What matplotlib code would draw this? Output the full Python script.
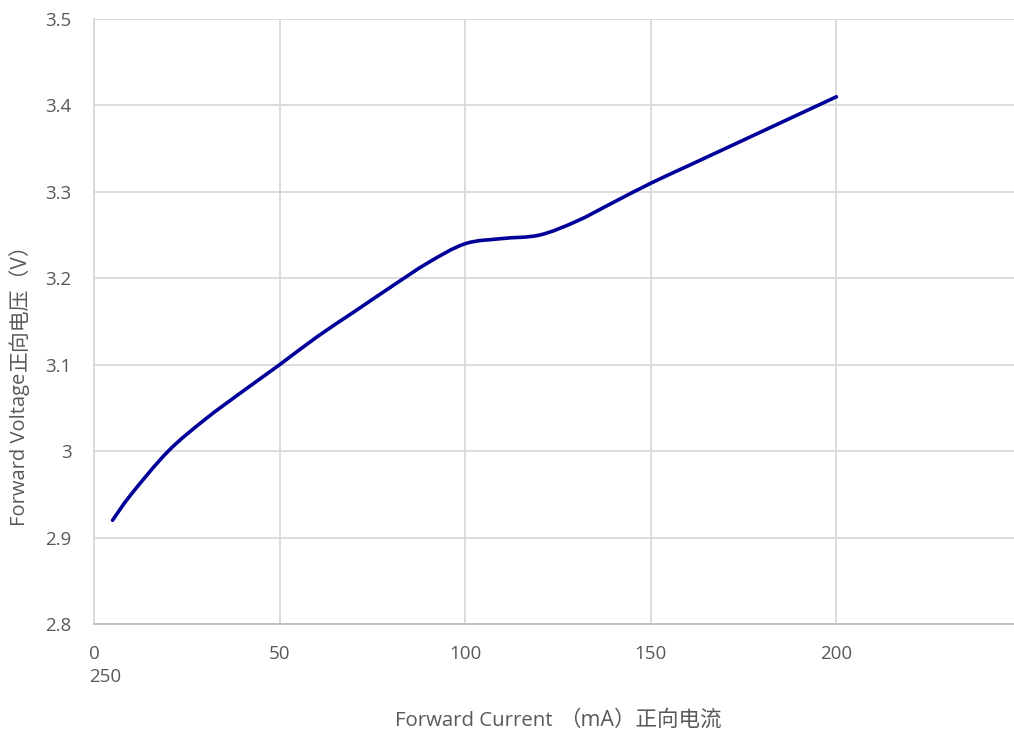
import matplotlib
matplotlib.use("Agg")
import matplotlib.pyplot as plt
from matplotlib.path import Path
from matplotlib.patches import PathPatch
import numpy as np

plt.rcParams['font.family'] = ['Open Sans', 'Noto Sans CJK SC', 'DejaVu Sans']

current_mA = [5, 10, 20, 30, 40, 50, 60, 70, 80, 90, 100, 110, 120, 130, 140, 150,
              160, 170, 180, 190, 200]
voltage_V = [2.92, 2.95, 3.00, 3.037, 3.069, 3.10, 3.132, 3.161, 3.19, 3.218, 3.24,
             3.246, 3.25, 3.266, 3.288, 3.31, 3.33, 3.35, 3.37, 3.39, 3.41]
x_ticks = [0, 50, 100, 150, 200, 250]
y_ticks = [2.8, 2.9, 3.0, 3.1, 3.2, 3.3, 3.4, 3.5]
y_tick_labels = ['2.8', '2.9', '3', '3.1', '3.2', '3.3', '3.4', '3.5']
x_label_parts = ['Forward Current', '（mA）正向电流']
y_label_parts = ['Forward Voltage', '正向电压（V）']

W, H = 1014, 730
fig = plt.figure(figsize=(W / 100, H / 100), dpi=100)
fig.patch.set_facecolor('white')
ax = fig.add_axes([94 / W, (H - 624) / H, (1022 - 94) / W, (624 - 19) / H])
ax.set_xlim(0, 250)
ax.set_ylim(2.8, 3.5)

grid_c = '#d9d9d9'
text_c = '#595959'
ax.set_xticks(x_ticks)
ax.set_xticklabels([str(v) for v in x_ticks[:-1]] + [''])
ax.set_yticks(y_ticks)
ax.set_yticklabels(y_tick_labels)
ax.tick_params(length=0, labelsize=13.5, labelcolor=text_c)
ax.tick_params(axis='x', pad=15)
ax.tick_params(axis='y', pad=16)
ax.grid(True, color=grid_c, linewidth=1.3)
ax.set_axisbelow(True)
for s in ['top', 'right']:
    ax.spines[s].set_visible(False)
ax.spines['left'].set_color(grid_c)
ax.spines['left'].set_linewidth(1.3)
ax.spines['bottom'].set_color('#bfbfbf')
ax.spines['bottom'].set_linewidth(1.3)

# Smoothed line (Bezier through data points, Excel-style smoothing)
pts = np.column_stack([current_mA, voltage_V]).astype(float)
n = len(pts)
verts = [pts[0]]
codes = [Path.MOVETO]
for i in range(n - 1):
    p0 = pts[i - 1] if i > 0 else pts[i]
    p1 = pts[i]
    p2 = pts[i + 1]
    p3 = pts[i + 2] if i + 2 < n else pts[i + 1]
    c1 = p1 + (p2 - p0) / 6.0
    c2 = p2 - (p3 - p1) / 6.0
    verts += [c1, c2, p2]
    codes += [Path.CURVE4] * 3
path = Path(verts, codes)
ax.add_patch(PathPatch(path, facecolor='none', edgecolor='#000099', linewidth=2.6,
                       capstyle='round', joinstyle='round'))

fig.text(105 / W, 1 - 677 / H, '250', ha='center', va='center', fontsize=13.5, color=text_c)

renderer = fig.canvas.get_renderer()

# x-axis title: Latin part + CJK part
t1 = fig.text(395 / W, 1 - 718 / H, x_label_parts[0], ha='left', va='center_baseline',
              fontsize=14.7, color=text_c)
bb = t1.get_window_extent(renderer)
fig.text((bb.x1 + 6) / W, 1 - 718 / H, x_label_parts[1], ha='left', va='center_baseline',
         fontsize=15.5, color=text_c)

# y-axis title (rotated): Latin part + CJK part
t2 = fig.text(20 / W, 1 - 526 / H, y_label_parts[0], ha='center', va='bottom', rotation=90,
              fontsize=14.5, color=text_c)
bb2 = t2.get_window_extent(renderer)
fig.text(20 / W, (bb2.y1 + 2) / H, y_label_parts[1], ha='center', va='bottom', rotation=90,
         fontsize=15, color=text_c)

fig.savefig('out.png', dpi=100, facecolor='white')
